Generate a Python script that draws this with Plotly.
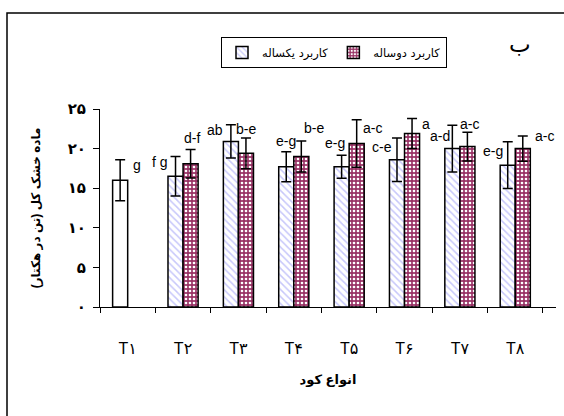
import plotly.graph_objects as go

# ---- data -------------------------------------------------------------
categories = ["T۱", "T۲", "T۳", "T۴", "T۵", "T۶", "T۷", "T۸"]

one_year = [16.0, 16.5, 20.9, 17.7, 17.7, 18.6, 20.0, 17.9]
one_year_err = [2.6, 2.5, 2.1, 1.9, 1.45, 2.75, 2.95, 2.95]
one_year_letters = ["g", "f g", "ab", "e-g", "e-g", "c-e", "a-d", "e-g"]

two_year = [None, 18.1, 19.4, 19.0, 20.65, 21.9, 20.25, 20.0]
two_year_err = [None, 1.8, 1.95, 1.95, 3.0, 1.9, 1.8, 1.6]
two_year_letters = [None, "d-f", "b-e", "b-e", "a-c", "a", "a-c", "a-c"]

y_ticks = [0, 5, 10, 15, 20, 25]
y_tick_text = ["۰", "۵", "۱۰", "۱۵", "۲۰", "۲۵"]

name_one = "کاربرد یکساله"
name_two = "کاربرد دوساله"
x_title = "انواع کود"
y_title = "ماده خشک کل (تن در هکتار)"
panel_tag = "ب"

# ---- layout constants ---------------------------------------------------
W, H = 564, 416
ML, MR, MT, MB = 100, 8, 109, 109
PW, PH = W - ML - MR, H - MT - MB
BARGAP = 0.456
FONT = "Liberation Sans, Arial, DejaVu Sans, sans-serif"

cat_px = PW / len(categories)
half_bar = (1 - BARGAP) * cat_px / 4  # centre of each bar from category centre

# label placement around each error-bar cap: (xanchor, dx px, dy px)
one_year_pos = [("left", 11, -5.5), ("right", -5, -5), ("right", -6, -5.5),
                ("center", 0, 11), ("center", -6, 12.5), ("right", -2.5, -9),
                ("right", -0.5, -10.5), ("right", -2.5, -9)]
two_year_pos = [None, ("center", 1, 11.5), ("center", 0, 8.5), ("left", 0, 13),
                ("left", 4, -8), ("left", 8, -5.5), ("center", 2, 8),
                ("left", 10, -0.5)]

BLUE = "#8f8ff5"
MAROON = "#993366"
ERR = dict(type="data", visible=True, color="black", thickness=1.5, width=5)
OUTLINE = dict(color="black", width=1.5)

fig = go.Figure()

# control treatment (first category): plain white bar in the one-year slot
fig.add_trace(go.Bar(
    x=categories[:1], y=one_year[:1], name=name_one,
    offsetgroup="one", showlegend=False,
    error_y=dict(ERR, array=one_year_err[:1]),
    marker=dict(color="white", line=OUTLINE),
))

# one-year application, diagonal hatching
fig.add_trace(go.Bar(
    x=categories[1:], y=one_year[1:], name=name_one, offsetgroup="one",
    error_y=dict(ERR, array=one_year_err[1:]),
    marker=dict(color="white", line=OUTLINE,
                pattern=dict(shape="\\", fgcolor=BLUE, bgcolor="white",
                             size=5, solidity=0.3, fillmode="overlay")),
))

# two-year application, checkered fill
fig.add_trace(go.Bar(
    x=categories, y=two_year, name=name_two, offsetgroup="two",
    error_y=dict(ERR, array=two_year_err),
    marker=dict(color=MAROON, line=OUTLINE,
                pattern=dict(shape=".", fgcolor="white", bgcolor=MAROON,
                             size=4, solidity=0.35, fillmode="replace")),
))

annotations = []


def add_letters(values, errs, letters, positions, side):
    for cat, v, e, txt, pos in zip(categories, values, errs, letters, positions):
        if v is None or txt is None:
            continue
        anchor, dx, dy = pos
        annotations.append(dict(
            x=cat, y=v + e, xref="x", yref="y",
            xshift=side * half_bar + dx, yshift=dy,
            text=txt, showarrow=False, xanchor=anchor, yanchor="middle",
            font=dict(family=FONT, size=14, color="black"),
        ))


add_letters(one_year, one_year_err, one_year_letters, one_year_pos, -1)
add_letters(two_year, two_year_err, two_year_letters, two_year_pos, +1)

# panel letter
annotations.append(dict(
    x=(520 - ML) / PW, y=(MT + PH - 44) / PH, xref="paper", yref="paper",
    text=panel_tag, showarrow=False, xanchor="center", yanchor="middle",
    font=dict(family="DejaVu Sans, sans-serif", size=23, color="black"),
))

# outer frame around the whole chart
shapes = [dict(
    type="rect", xref="paper", yref="paper",
    x0=(7 - ML) / PW, x1=(W + 10 - ML) / PW,
    y0=(MT + PH - (H + 20)) / PH, y1=(MT + PH - 13) / PH,
    line=dict(color="black", width=1.5), fillcolor="rgba(0,0,0,0)",
    layer="below",
)]

fig.update_layout(
    width=W, height=H,
    margin=dict(l=ML, r=MR, t=MT, b=MB),
    paper_bgcolor="white", plot_bgcolor="white",
    barmode="group", bargap=BARGAP, bargroupgap=0,
    font=dict(family=FONT, color="black"),
    showlegend=True,
    legend=dict(
        orientation="h", x=(221 - ML) / PW, y=(MT + PH - 37) / PH,
        xanchor="left", yanchor="top",
        bordercolor="black", borderwidth=1, bgcolor="white",
        font=dict(family="DejaVu Sans, sans-serif", size=11.5, color="black"),
        itemwidth=30, tracegroupgap=0, entrywidth=0,
    ),
    annotations=annotations,
    shapes=shapes,
)

fig.update_xaxes(
    type="category", categoryorder="array", categoryarray=categories,
    showline=True, linecolor="black", linewidth=1,
    ticks="outside", tickson="boundaries", ticklen=5, tickcolor="black",
    tickfont=dict(family=FONT, size=16, color="black"),
    ticklabelstandoff=27,
    showgrid=False, zeroline=False,
    title=dict(text=x_title, standoff=18,
               font=dict(family=FONT, size=13, color="black", weight="bold")),
)

fig.update_yaxes(
    range=[0, 25], tickvals=y_ticks, ticktext=y_tick_text,
    showline=True, linecolor="black", linewidth=1,
    ticks="outside", ticklen=6, tickcolor="black",
    tickfont=dict(family=FONT, size=15, color="black", weight="bold"),
    ticklabelstandoff=4,
    showgrid=False, zeroline=False,
    title=dict(text=y_title, standoff=24,
               font=dict(family=FONT, size=12, color="black", weight="bold")),
)

fig.write_html("out.html")
